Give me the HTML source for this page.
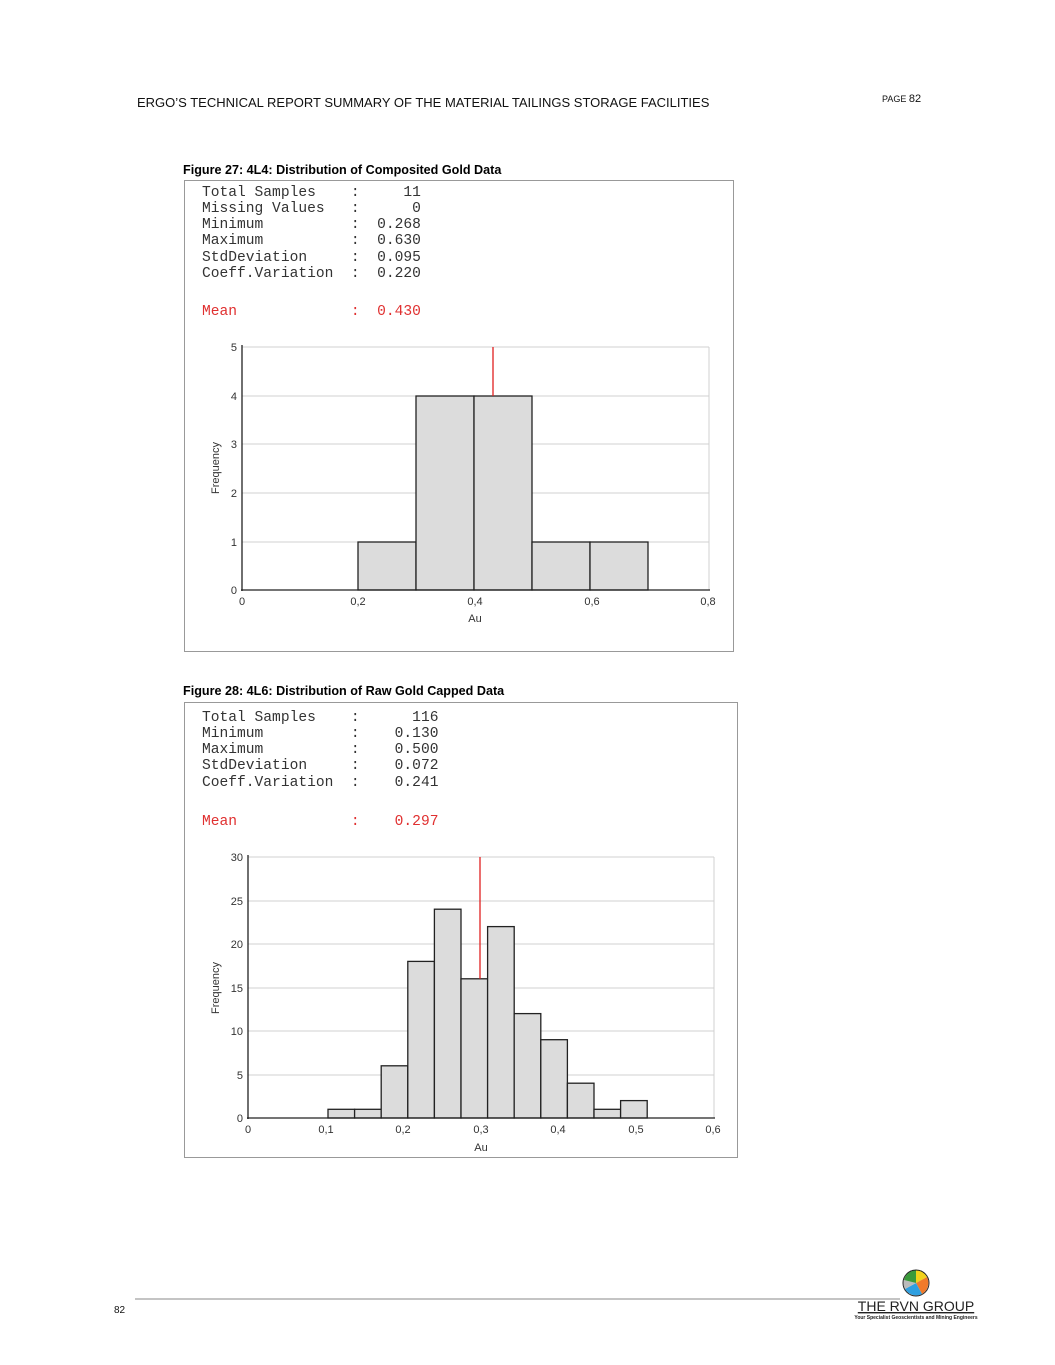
<!DOCTYPE html>
<html><head><meta charset="utf-8"><style>
html,body{margin:0;padding:0;background:#fff;}
svg{display:block;}
.m text{white-space:pre;}
</style></head><body>
<svg width="1055" height="1365" xmlns="http://www.w3.org/2000/svg" font-family="Liberation Sans, sans-serif">
<text x="137" y="107" font-size="13" fill="#111">ERGO’S TECHNICAL REPORT SUMMARY OF THE MATERIAL TAILINGS STORAGE FACILITIES</text>
<text x="882" y="102" font-size="9" fill="#111">PAGE <tspan font-size="11">82</tspan></text>

<text x="183" y="174" font-size="12.6" font-weight="bold" fill="#000">Figure 27:  4L4: Distribution of Composited Gold Data</text>
<rect x="184.5" y="180.5" width="549" height="471" fill="#fff" stroke="#999"/>
<g class="m" font-family="Liberation Mono, monospace" font-size="14.6" fill="#333">
<text x="202" y="196">Total Samples    :     11</text>
<text x="202" y="212">Missing Values   :      0</text>
<text x="202" y="228">Minimum          :  0.268</text>
<text x="202" y="244">Maximum          :  0.630</text>
<text x="202" y="261">StdDeviation     :  0.095</text>
<text x="202" y="277">Coeff.Variation  :  0.220</text>
<text x="202" y="315" fill="#e03030">Mean             :  0.430</text>
</g>
<g stroke="#d0d0d0" stroke-width="1">
<line x1="242" y1="347" x2="709" y2="347"/><line x1="242" y1="396" x2="709" y2="396"/>
<line x1="242" y1="444" x2="709" y2="444"/><line x1="242" y1="493" x2="709" y2="493"/>
<line x1="242" y1="542" x2="709" y2="542"/><line x1="709" y1="347" x2="709" y2="590"/>
</g>
<g fill="#dcdcdc" stroke="#222" stroke-width="1.3">
<rect x="358" y="542" width="58" height="48"/>
<rect x="416" y="396" width="58" height="194"/>
<rect x="474" y="396" width="58" height="194"/>
<rect x="532" y="542" width="58" height="48"/>
<rect x="590" y="542" width="58" height="48"/>
</g>
<line x1="493" y1="347" x2="493" y2="396" stroke="#e02020" stroke-width="1.3"/>
<g stroke="#222" stroke-width="1.3"><line x1="242" y1="345" x2="242" y2="591"/><line x1="241" y1="590" x2="710" y2="590"/></g>
<g font-size="11" fill="#333" text-anchor="end">
<text x="237" y="351">5</text><text x="237" y="400">4</text><text x="237" y="448">3</text><text x="237" y="497">2</text><text x="237" y="546">1</text><text x="237" y="594">0</text>
</g>
<g font-size="11" fill="#333" text-anchor="middle">
<text x="242" y="605">0</text><text x="358" y="605">0,2</text><text x="475" y="605">0,4</text><text x="592" y="605">0,6</text><text x="708" y="605">0,8</text>
<text x="475" y="622">Au</text>
</g>
<text transform="translate(219,468) rotate(-90)" font-size="11" fill="#333" text-anchor="middle">Frequency</text>

<text x="183" y="695" font-size="12.6" font-weight="bold" fill="#000">Figure 28:  4L6: Distribution of Raw Gold Capped Data</text>
<rect x="184.5" y="702.5" width="553" height="455" fill="#fff" stroke="#999"/>
<g class="m" font-family="Liberation Mono, monospace" font-size="14.6" fill="#333">
<text x="202" y="721">Total Samples    :      116</text>
<text x="202" y="737">Minimum          :    0.130</text>
<text x="202" y="753">Maximum          :    0.500</text>
<text x="202" y="769">StdDeviation     :    0.072</text>
<text x="202" y="786">Coeff.Variation  :    0.241</text>
<text x="202" y="825" fill="#e03030">Mean             :    0.297</text>
</g>
<g stroke="#d0d0d0" stroke-width="1">
<line x1="248" y1="857" x2="714" y2="857"/><line x1="248" y1="901" x2="714" y2="901"/>
<line x1="248" y1="944" x2="714" y2="944"/><line x1="248" y1="988" x2="714" y2="988"/>
<line x1="248" y1="1031" x2="714" y2="1031"/><line x1="248" y1="1075" x2="714" y2="1075"/>
<line x1="714" y1="857" x2="714" y2="1118"/>
</g>
<g fill="#dcdcdc" stroke="#222" stroke-width="1.3">
<rect x="328" y="1109.3" width="26.6" height="8.7"/>
<rect x="354.6" y="1109.3" width="26.6" height="8.7"/>
<rect x="381.2" y="1065.8" width="26.6" height="52.2"/>
<rect x="407.8" y="961.4" width="26.6" height="156.6"/>
<rect x="434.4" y="909.2" width="26.6" height="208.8"/>
<rect x="461" y="978.8" width="26.6" height="139.2"/>
<rect x="487.6" y="926.6" width="26.6" height="191.4"/>
<rect x="514.2" y="1013.6" width="26.6" height="104.4"/>
<rect x="540.8" y="1039.7" width="26.6" height="78.3"/>
<rect x="567.4" y="1083.2" width="26.6" height="34.8"/>
<rect x="594" y="1109.3" width="26.6" height="8.7"/>
<rect x="620.6" y="1100.6" width="26.6" height="17.4"/>
</g>
<line x1="480" y1="857" x2="480" y2="978.8" stroke="#e02020" stroke-width="1.3"/>
<g stroke="#222" stroke-width="1.3"><line x1="248" y1="855" x2="248" y2="1119"/><line x1="247" y1="1118" x2="715" y2="1118"/></g>
<g font-size="11" fill="#333" text-anchor="end">
<text x="243" y="861">30</text><text x="243" y="905">25</text><text x="243" y="948">20</text><text x="243" y="992">15</text><text x="243" y="1035">10</text><text x="243" y="1079">5</text><text x="243" y="1122">0</text>
</g>
<g font-size="11" fill="#333" text-anchor="middle">
<text x="248" y="1133">0</text><text x="326" y="1133">0,1</text><text x="403" y="1133">0,2</text><text x="481" y="1133">0,3</text><text x="558" y="1133">0,4</text><text x="636" y="1133">0,5</text><text x="713" y="1133">0,6</text>
<text x="481" y="1151">Au</text>
</g>
<text transform="translate(219,988) rotate(-90)" font-size="11" fill="#333" text-anchor="middle">Frequency</text>

<line x1="135" y1="1299" x2="900" y2="1299" stroke="#888" stroke-width="1"/>
<text x="114" y="1313" font-size="10" fill="#111">82</text>
<g transform="translate(916,1283)">
<path d="M0,0 L0,-13 A13,13 0 0,1 11,-6 Z" fill="#f2d21b"/>
<path d="M0,0 L11,-6 A13,13 0 0,1 6,11 Z" fill="#f07a2a"/>
<path d="M0,0 L6,11 A13,13 0 0,1 -11,6 Z" fill="#2e9fe0"/>
<path d="M0,0 L-11,6 A13,13 0 0,1 -12,-3 Z" fill="#bbb"/>
<path d="M0,0 L-12,-3 A13,13 0 0,1 0,-13 Z" fill="#3a9a3a"/>
<circle r="13" fill="none" stroke="#222" stroke-width="1"/>
</g>
<text x="916" y="1311" font-size="14" fill="#222" text-anchor="middle" text-decoration="underline">THE RVN GROUP</text>
<text x="916" y="1319" font-size="5" font-weight="bold" fill="#222" text-anchor="middle">Your Specialist Geoscientists and Mining Engineers</text>
</svg>
</body></html>
